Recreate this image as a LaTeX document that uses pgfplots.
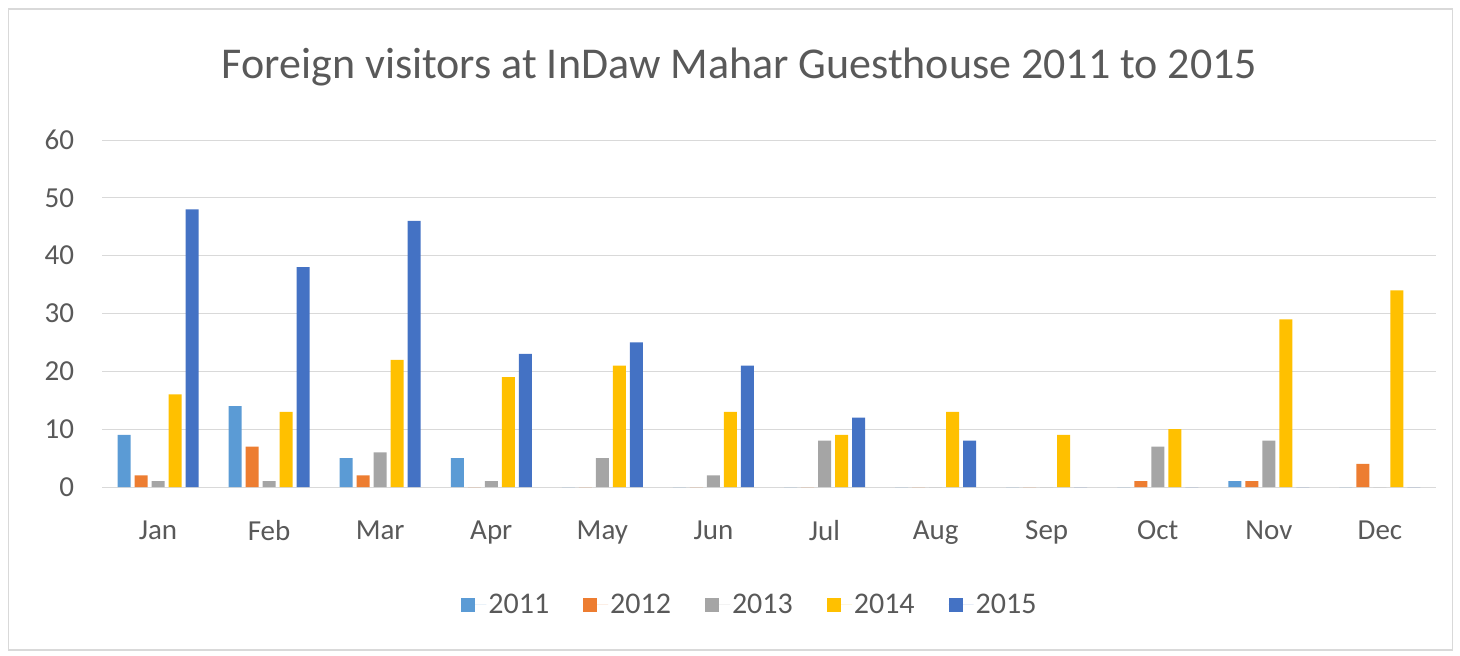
\documentclass[border=0pt]{standalone}
\usepackage{pgfplots}
\pgfplotsset{compat=1.18}
\usepackage{fontspec}
\setmainfont{Carlito}
\definecolor{c2011}{HTML}{5B9BD5}
\definecolor{c2012}{HTML}{ED7D31}
\definecolor{c2013}{HTML}{A5A5A5}
\definecolor{c2014}{HTML}{FFC000}
\definecolor{c2015}{HTML}{4472C4}
\definecolor{txt}{HTML}{595959}
\definecolor{gridc}{HTML}{D9D9D9}
\begin{document}
\begin{tikzpicture}
\path (-102.5pt,-169pt) rectangle (1357.5pt,487pt);
\draw[gridc, line width=1.5pt] (-94pt,-163pt) rectangle (1350pt,478pt);
\begin{axis}[
  at={(0,0)}, anchor=south west,
  scale only axis, width=1333pt, height=347pt,
  ybar=4pt, bar width=13pt,
  xmin=-0.5, xmax=11.5, ymin=0, ymax=60,
  xtick={0,...,11},
  xticklabels={Jan,Feb,Mar,Apr,May,Jun,Jul,Aug,Sep,Oct,Nov,Dec},
  ytick={0,10,...,60},
  axis line style={draw=none},
  major tick length=0pt,
  xmajorgrids=false, ymajorgrids=true,
  grid style={draw=gridc, line width=1pt},
  tick label style={font=\fontsize{29}{34}\selectfont, text=txt},
  /pgf/number format/assume math mode=true,
  yticklabel style={xshift=-25pt},
  xticklabel style={yshift=-30pt},
  legend columns=5,
  legend style={draw=none, at={(0.4857,-0.34)}, anchor=center,
    font=\fontsize{30}{34}\selectfont, text=txt,
    /tikz/every even column/.append style={column sep=32pt}},
  legend image code/.code={\fill[#1] (0pt,-7pt) rectangle (14pt,7pt); \path (0pt,0pt) -- (25pt,0pt);},
]
\addplot[fill=c2011, draw=none] coordinates {(0,9)(1,14)(2,5)(3,5)(4,0)(5,0)(6,0)(7,0)(8,0)(9,0)(10,1)(11,0)};
\addplot[fill=c2012, draw=none] coordinates {(0,2)(1,7)(2,2)(3,0)(4,0)(5,0)(6,0)(7,0)(8,0)(9,1)(10,1)(11,4)};
\addplot[fill=c2013, draw=none] coordinates {(0,1)(1,1)(2,6)(3,1)(4,5)(5,2)(6,8)(7,0)(8,0)(9,7)(10,8)(11,0)};
\addplot[fill=c2014, draw=none] coordinates {(0,16)(1,13)(2,22)(3,19)(4,21)(5,13)(6,9)(7,13)(8,9)(9,10)(10,29)(11,34)};
\addplot[fill=c2015, draw=none] coordinates {(0,48)(1,38)(2,46)(3,23)(4,25)(5,21)(6,12)(7,8)(8,0)(9,0)(10,0)(11,0)};
\legend{2011,2012,2013,2014,2015}
\end{axis}
\node[text=txt, font=\fontsize{44}{50}\selectfont] at (637pt,420pt) {Foreign visitors at InDaw Mahar Guesthouse 2011 to 2015};
\end{tikzpicture}
\end{document}
